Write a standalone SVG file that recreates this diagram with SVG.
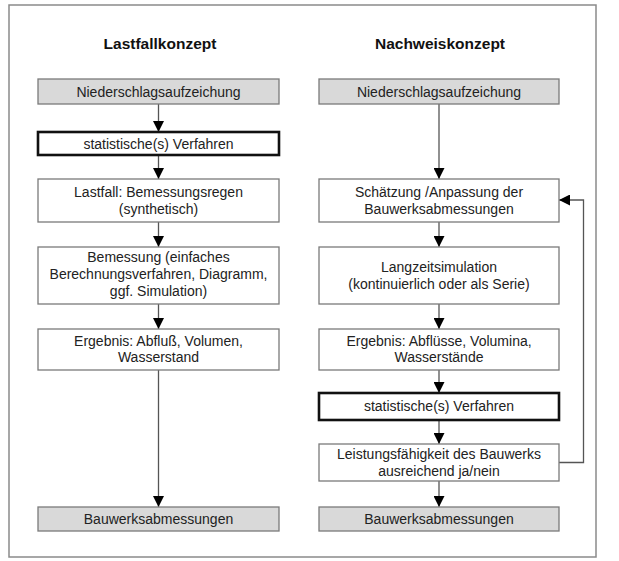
<svg xmlns="http://www.w3.org/2000/svg" width="619" height="561" viewBox="0 0 619 561">
<defs>
<style>
.frame{fill:#fff;stroke:#8a8a8a;stroke-width:1.5}
.box{fill:#fff;stroke:#7a7a7a;stroke-width:1.3}
.gray{fill:#d9d9d9;stroke:#7a7a7a;stroke-width:1.3}
.thick{fill:#fff;stroke:#111;stroke-width:2.6}
.t{font-family:"Liberation Sans",Arial,sans-serif;font-size:14px;fill:#222;text-anchor:middle}
.title{font-family:"Liberation Sans",Arial,sans-serif;font-size:15.5px;font-weight:bold;fill:#111;text-anchor:middle}
.c{fill:none;stroke:#555;stroke-width:1.3}
</style>
<marker id="ah" markerUnits="userSpaceOnUse" markerWidth="11" markerHeight="11" refX="10" refY="5" orient="auto" viewBox="0 0 10 10">
<path d="M0,0 L10,5 L0,10 z" fill="#000"/>
</marker>
</defs>
<rect x="0" y="0" width="619" height="561" fill="#fff"/>
<rect class="frame" x="9" y="5" width="587" height="552"/>
<text class="title" x="160" y="49">Lastfallkonzept</text>
<text class="title" x="440" y="49">Nachweiskonzept</text>

<g id="connectors">
<line class="c" x1="158.5" y1="104" x2="158.5" y2="132" marker-end="url(#ah)"/>
<line class="c" x1="158.5" y1="155" x2="158.5" y2="179" marker-end="url(#ah)"/>
<line class="c" x1="158.5" y1="222" x2="158.5" y2="247" marker-end="url(#ah)"/>
<line class="c" x1="158.5" y1="304" x2="158.5" y2="329" marker-end="url(#ah)"/>
<line class="c" x1="158.5" y1="370" x2="158.5" y2="507" marker-end="url(#ah)"/>
<line class="c" x1="439" y1="104" x2="439" y2="179" marker-end="url(#ah)"/>
<line class="c" x1="439" y1="222" x2="439" y2="247" marker-end="url(#ah)"/>
<line class="c" x1="439" y1="304" x2="439" y2="329" marker-end="url(#ah)"/>
<line class="c" x1="439" y1="370" x2="439" y2="393" marker-end="url(#ah)"/>
<line class="c" x1="439" y1="420" x2="439" y2="444" marker-end="url(#ah)"/>
<line class="c" x1="439" y1="481" x2="439" y2="507" marker-end="url(#ah)"/>
<polyline class="c" points="559,462.5 583.5,462.5 583.5,200 559,200" marker-end="url(#ah)"/>
</g>

<g id="L1"><rect class="gray" x="38" y="79" width="241" height="25"/><text class="t" x="158.5" y="97">Niederschlagsaufzeichung</text></g>
<g id="L2"><rect class="thick" x="38" y="132" width="241" height="23"/><text class="t" x="158.5" y="148.5">statistische(s) Verfahren</text></g>
<g id="L3"><rect class="box" x="38" y="179" width="241" height="43"/><text class="t" x="158.5" y="197">Lastfall: Bemessungsregen</text><text class="t" x="158.5" y="214">(synthetisch)</text></g>
<g id="L4"><rect class="box" x="38" y="247" width="241" height="57"/><text class="t" x="158.5" y="262">Bemessung (einfaches</text><text class="t" x="158.5" y="279">Berechnungsverfahren, Diagramm,</text><text class="t" x="158.5" y="296">ggf. Simulation)</text></g>
<g id="L5"><rect class="box" x="38" y="329" width="241" height="41"/><text class="t" x="158.5" y="346">Ergebnis: Abfluß, Volumen,</text><text class="t" x="158.5" y="362">Wasserstand</text></g>
<g id="L6"><rect class="gray" x="38" y="507" width="241" height="24"/><text class="t" x="158.5" y="524">Bauwerksabmessungen</text></g>

<g id="R1"><rect class="gray" x="319" y="79" width="240" height="25"/><text class="t" x="439" y="97">Niederschlagsaufzeichung</text></g>
<g id="R2"><rect class="box" x="319" y="179" width="240" height="43"/><text class="t" x="439" y="197">Schätzung /Anpassung der</text><text class="t" x="439" y="214">Bauwerksabmessungen</text></g>
<g id="R3"><rect class="box" x="319" y="247" width="240" height="57"/><text class="t" x="439" y="272">Langzeitsimulation</text><text class="t" x="439" y="289">(kontinuierlich oder als Serie)</text></g>
<g id="R4"><rect class="box" x="319" y="329" width="240" height="41"/><text class="t" x="439" y="346">Ergebnis: Abflüsse, Volumina,</text><text class="t" x="439" y="362">Wasserstände</text></g>
<g id="R5"><rect class="thick" x="319" y="393" width="240" height="27"/><text class="t" x="439" y="411">statistische(s) Verfahren</text></g>
<g id="R6"><rect class="box" x="319" y="444" width="240" height="37"/><text class="t" x="439" y="459">Leistungsfähigkeit des Bauwerks</text><text class="t" x="439" y="476">ausreichend ja/nein</text></g>
<g id="R7"><rect class="gray" x="319" y="507" width="240" height="24"/><text class="t" x="439" y="524">Bauwerksabmessungen</text></g>
</svg>
